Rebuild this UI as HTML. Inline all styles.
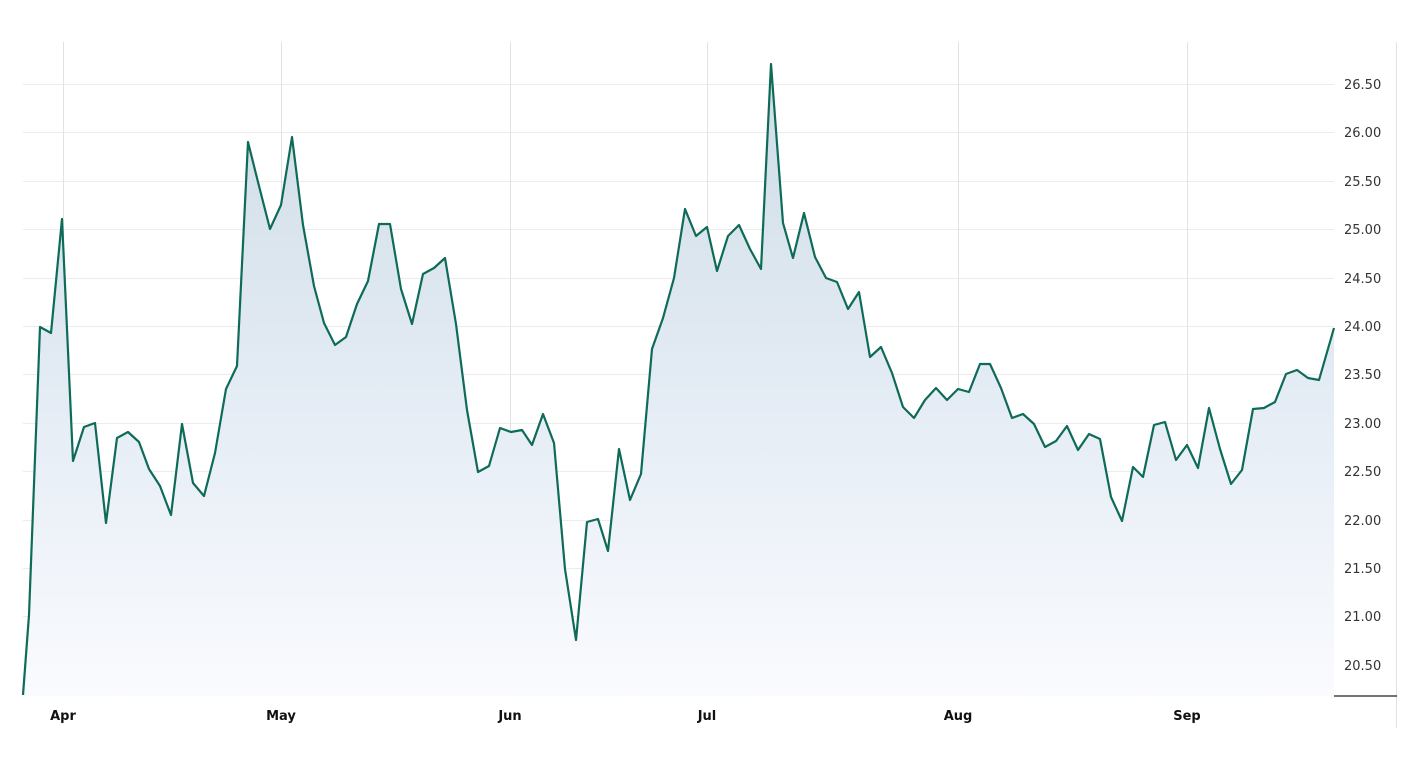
<!DOCTYPE html>
<html><head><meta charset="utf-8"><style>
html,body{margin:0;padding:0;background:#fff;}
svg{display:block;font-family:"DejaVu Sans","Liberation Sans",sans-serif;}
</style></head><body>
<svg width="1428" height="770" viewBox="0 0 1428 770" xmlns="http://www.w3.org/2000/svg">
<defs>
<linearGradient id="g" x1="0" y1="64" x2="0" y2="696" gradientUnits="userSpaceOnUse">
<stop offset="0" stop-color="#cfdde6"/>
<stop offset="0.5" stop-color="#e3ebf4"/>
<stop offset="1" stop-color="#fafbfe"/>
</linearGradient>
</defs>
<g stroke="#ececec" stroke-width="1">
<line x1="23" x2="1334" y1="84.5" y2="84.5"/>
<line x1="23" x2="1334" y1="132.5" y2="132.5"/>
<line x1="23" x2="1334" y1="181.5" y2="181.5"/>
<line x1="23" x2="1334" y1="229.5" y2="229.5"/>
<line x1="23" x2="1334" y1="278.5" y2="278.5"/>
<line x1="23" x2="1334" y1="326.5" y2="326.5"/>
<line x1="23" x2="1334" y1="374.5" y2="374.5"/>
<line x1="23" x2="1334" y1="423.5" y2="423.5"/>
<line x1="23" x2="1334" y1="471.5" y2="471.5"/>
<line x1="23" x2="1334" y1="520.5" y2="520.5"/>
<line x1="23" x2="1334" y1="568.5" y2="568.5"/>
<line x1="23" x2="1334" y1="616.5" y2="616.5"/>
<line x1="23" x2="1334" y1="665.5" y2="665.5"/>
</g>
<g stroke="#e2e2e2" stroke-width="1">
<line x1="63.5" x2="63.5" y1="42" y2="696"/>
<line x1="281.5" x2="281.5" y1="42" y2="696"/>
<line x1="510.5" x2="510.5" y1="42" y2="696"/>
<line x1="707.5" x2="707.5" y1="42" y2="696"/>
<line x1="958.5" x2="958.5" y1="42" y2="696"/>
<line x1="1187.5" x2="1187.5" y1="42" y2="696"/>
<line x1="1396.5" x2="1396.5" y1="42" y2="728"/>
</g>
<line x1="1334" x2="1397" y1="696" y2="696" stroke="#222" stroke-width="1.2"/>
<path id="p" fill="url(#g)" stroke="none" d="M23,695 L29,615 L40,327 L51,333 L62,219 L73,461 L84,427 L95,423 L106,523 L117,438 L128,432 L139,442 L149,469 L160,486 L171,515 L182,424 L193,483 L204,496 L215,453 L226,389 L237,366 L248,142 L259,186 L270,229 L281,205 L292,137 L303,225 L314,286 L324,323 L335,345 L346,337 L357,304 L368,281 L379,224 L390,224 L401,289 L412,324 L423,274 L434,268 L445,258 L456,324 L467,410 L478,472 L489,466 L500,428 L511,432 L522,430 L532,445 L543,414 L554,443 L565,569 L576,640 L587,522 L598,519 L608,551 L619,449 L630,500 L641,474 L652,349 L663,318 L674,278 L685,209 L696,236 L707,227 L717,271 L728,236 L739,225 L750,249 L761,269 L771,64 L783,223 L793,258 L804,213 L815,257 L826,278 L837,282 L848,309 L859,292 L870,357 L881,347 L892,373 L903,407 L914,418 L925,400 L936,388 L947,400 L958,389 L969,392 L980,364 L990,364 L1001,388 L1012,418 L1023,414 L1034,424 L1045,447 L1056,441 L1067,426 L1078,450 L1089,434 L1100,439 L1111,497 L1122,521 L1133,467 L1143,477 L1154,425 L1165,422 L1176,460 L1187,445 L1198,468 L1209,408 L1220,449 L1231,484 L1242,470 L1253,409 L1264,408 L1275,402 L1286,374 L1297,370 L1308,378 L1319,380 L1334,328 L1334,696 L23,696 Z"/>
<polyline fill="none" stroke="#0e6b58" stroke-width="2.2" stroke-linejoin="round" points="23,695 29,615 40,327 51,333 62,219 73,461 84,427 95,423 106,523 117,438 128,432 139,442 149,469 160,486 171,515 182,424 193,483 204,496 215,453 226,389 237,366 248,142 259,186 270,229 281,205 292,137 303,225 314,286 324,323 335,345 346,337 357,304 368,281 379,224 390,224 401,289 412,324 423,274 434,268 445,258 456,324 467,410 478,472 489,466 500,428 511,432 522,430 532,445 543,414 554,443 565,569 576,640 587,522 598,519 608,551 619,449 630,500 641,474 652,349 663,318 674,278 685,209 696,236 707,227 717,271 728,236 739,225 750,249 761,269 771,64 783,223 793,258 804,213 815,257 826,278 837,282 848,309 859,292 870,357 881,347 892,373 903,407 914,418 925,400 936,388 947,400 958,389 969,392 980,364 990,364 1001,388 1012,418 1023,414 1034,424 1045,447 1056,441 1067,426 1078,450 1089,434 1100,439 1111,497 1122,521 1133,467 1143,477 1154,425 1165,422 1176,460 1187,445 1198,468 1209,408 1220,449 1231,484 1242,470 1253,409 1264,408 1275,402 1286,374 1297,370 1308,378 1319,380 1334,328"/>
<g fill="#333" font-size="13" text-anchor="start">
<text x="1344" y="89">26.50</text>
<text x="1344" y="137">26.00</text>
<text x="1344" y="186">25.50</text>
<text x="1344" y="234">25.00</text>
<text x="1344" y="283">24.50</text>
<text x="1344" y="331">24.00</text>
<text x="1344" y="379">23.50</text>
<text x="1344" y="428">23.00</text>
<text x="1344" y="476">22.50</text>
<text x="1344" y="525">22.00</text>
<text x="1344" y="573">21.50</text>
<text x="1344" y="621">21.00</text>
<text x="1344" y="670">20.50</text>
</g>
<g fill="#111" font-size="13" font-weight="bold" text-anchor="middle">
<text x="63" y="720">Apr</text>
<text x="281" y="720">May</text>
<text x="510" y="720">Jun</text>
<text x="707" y="720">Jul</text>
<text x="958" y="720">Aug</text>
<text x="1187" y="720">Sep</text>
</g>
</svg>
</body></html>
